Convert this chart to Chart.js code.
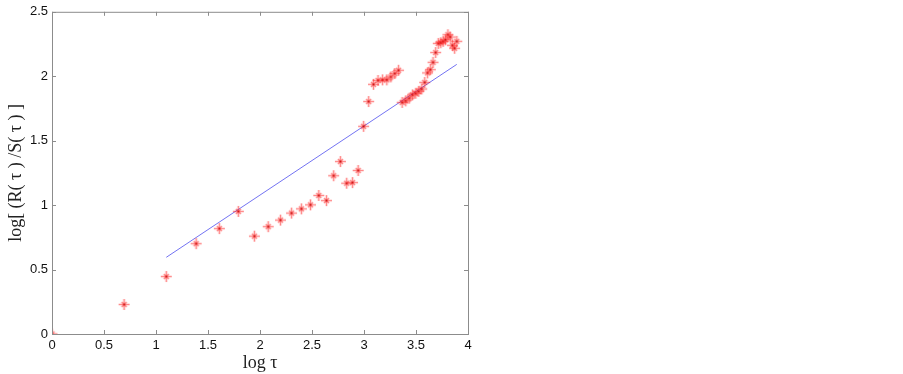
<!DOCTYPE html>
<html>
<head>
<meta charset="utf-8">
<script src="https://cdn.jsdelivr.net/npm/chart.js@4.4.1/dist/chart.umd.min.js"></script>
<style>
  body { margin: 0; background: #fff; }
  #wrap { width: 903px; height: 374px; }
</style>
</head>
<body>
<div id="wrap"><canvas id="my-graph"></canvas></div>
<script>
  // log tau values
  const logTau = [0, 0.693, 1.099, 1.386, 1.609, 1.792, 1.946, 2.079, 2.197, 2.303,
    2.398, 2.485, 2.565, 2.639, 2.708, 2.773, 2.833, 2.890, 2.944, 2.996,
    3.045, 3.091, 3.135, 3.178, 3.219, 3.258, 3.296, 3.332, 3.367, 3.401,
    3.434, 3.466, 3.497, 3.526, 3.555, 3.584, 3.611, 3.638, 3.664, 3.689,
    3.714, 3.738, 3.761, 3.784, 3.807, 3.829, 3.850, 3.871, 3.892];
  const logRS = [0, 0.229, 0.446, 0.701, 0.818, 0.951, 0.759, 0.833, 0.884, 0.938,
    0.971, 1.002, 1.075, 1.035, 1.228, 1.338, 1.170, 1.175, 1.269, 1.611,
    1.804, 1.937, 1.967, 1.972, 1.972, 1.995, 2.021, 2.046, 1.797, 1.809,
    1.830, 1.855, 1.868, 1.883, 1.901, 1.952, 2.026, 2.051, 2.108, 2.184,
    2.255, 2.260, 2.271, 2.283, 2.322, 2.304, 2.240, 2.217, 2.271];
  // fitted line end points
  const fitX = [1.099, 3.892];
  const fitY = [0.595, 2.092];

  const xTicks = [0, 0.5, 1, 1.5, 2, 2.5, 3, 3.5, 4];
  const yTicks = [0, 0.5, 1, 1.5, 2, 2.5];

  // matlab-like '*' marker: long plus, short x
  const marker = document.createElement('canvas');
  marker.width = 13; marker.height = 13;
  (function () {
    const c = marker.getContext('2d');
    c.strokeStyle = 'rgba(255,40,40,0.55)';
    c.lineWidth = 1.6;
    c.beginPath();
    c.moveTo(6.5, 1); c.lineTo(6.5, 12);
    c.moveTo(1, 6.5); c.lineTo(12, 6.5);
    c.moveTo(4, 4); c.lineTo(9, 9);
    c.moveTo(9, 4); c.lineTo(4, 9);
    c.stroke();
    c.fillStyle = 'rgba(200,0,0,0.9)';
    c.fillRect(5.5, 5.5, 2, 2);
  })();

  // box round the plot with inward ticks on all four sides
  const boxPlugin = {
    id: 'box',
    afterDraw(chart) {
      const ctx = chart.ctx;
      const a = chart.chartArea;
      const xs = chart.scales.x, ys = chart.scales.y;
      ctx.save();
      ctx.strokeStyle = '#8c8c8c';
      ctx.lineWidth = 1;
      ctx.strokeRect(a.left + 0.5, a.top + 0.5, a.right - a.left, a.bottom - a.top);
      ctx.beginPath();
      xTicks.forEach(v => {
        const px = Math.round(xs.getPixelForValue(v)) + 0.5;
        ctx.moveTo(px, a.bottom); ctx.lineTo(px, a.bottom - 4);
        ctx.moveTo(px, a.top); ctx.lineTo(px, a.top + 4);
      });
      yTicks.forEach(v => {
        const py = Math.round(ys.getPixelForValue(v)) + 0.5;
        ctx.moveTo(a.left, py); ctx.lineTo(a.left + 4, py);
        ctx.moveTo(a.right, py); ctx.lineTo(a.right - 4, py);
      });
      ctx.stroke();
      ctx.restore();
    }
  };

  const mygraph = document.getElementById('my-graph');

  new Chart(mygraph, {
    type: 'scatter',
    data: {
      datasets: [{
        label: 'data',
        data: logTau.map((x, i) => ({ x: x, y: logRS[i] })),
        pointStyle: marker,
        radius: 6
      }, {
        label: 'fit',
        type: 'line',
        data: fitX.map((x, i) => ({ x: x, y: fitY[i] })),
        borderColor: 'rgba(90,90,240,0.85)',
        borderWidth: 1,
        pointRadius: 0,
        fill: false
      }]
    },
    options: {
      responsive: true,
      maintainAspectRatio: false,
      animation: false,
      layout: { padding: { left: 0, top: 7, right: 435, bottom: 0 } },
      plugins: {
        legend: { display: false },
        tooltip: { enabled: false }
      },
      scales: {
        x: {
          type: 'linear',
          min: 0, max: 4,
          afterFit: s => { s.height = 40; },
          afterBuildTicks: s => { s.ticks = xTicks.map(v => ({ value: v })); },
          grid: { display: false, tickLength: 0 },
          border: { display: false },
          ticks: {
            padding: 4,
            color: '#111',
            font: { family: 'Liberation Sans', size: 13 },
            maxRotation: 0,
            callback: v => String(v)
          },
          title: {
            display: true,
            text: 'log τ',
            color: '#222',
            padding: { top: 0, bottom: 0 },
            font: { family: 'Liberation Serif', size: 18 }
          }
        },
        y: {
          type: 'linear',
          min: 0, max: 2.5,
          afterFit: s => { s.width = 52; },
          afterBuildTicks: s => { s.ticks = yTicks.map(v => ({ value: v })); },
          grid: { display: false, tickLength: 0 },
          border: { display: false },
          ticks: {
            padding: 4,
            color: '#111',
            font: { family: 'Liberation Sans', size: 13 },
            callback: v => String(v)
          },
          title: {
            display: true,
            text: 'log[ (R( τ ) /S( τ ) ]',
            color: '#222',
            padding: { top: 5, bottom: 0 },
            font: { family: 'Liberation Serif', size: 18 }
          }
        }
      }
    },
    plugins: [boxPlugin]
  });
</script>
</body>
</html>
